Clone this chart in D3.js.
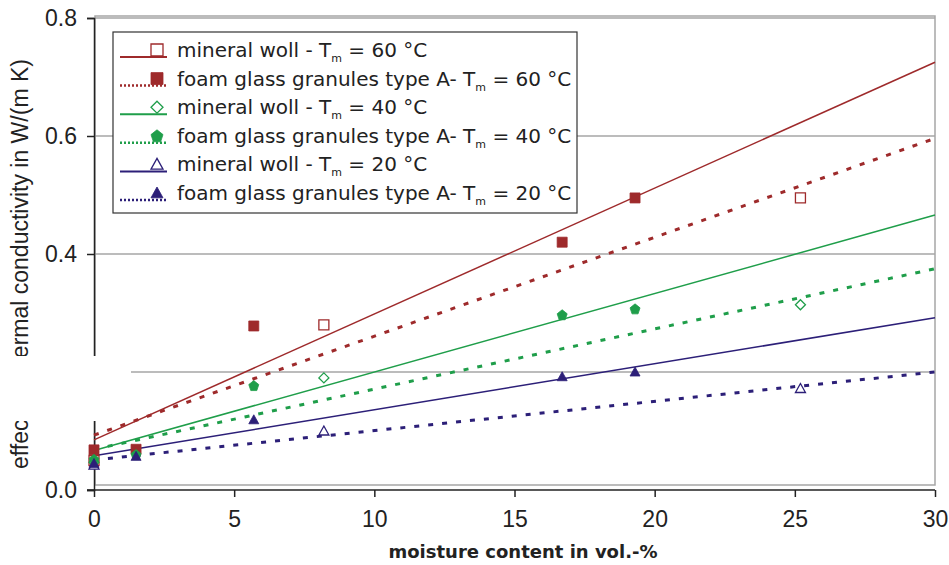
<!DOCTYPE html>
<html>
<head>
<meta charset="utf-8">
<script src="https://cdnjs.cloudflare.com/ajax/libs/d3/7.8.5/d3.min.js"></script>
<style>
  body { margin: 0; background: #fff; }
  svg { display: block; }
</style>
</head>
<body>
<svg id="viz"></svg>
<script>
var width = 949;
var height = 565;

// moisture content (vol.-%) of the measured samples
var foamX = [0, 1.5, 5.7, 16.7, 19.3];
var woolX = [0, 8.2, 25.2];

// effective thermal conductivity in W/(m K)
var foam60 = [0.068, 0.069, 0.278, 0.42, 0.495];
var foam40 = [0.052, 0.06, 0.177, 0.297, 0.307];
var foam20 = [0.045, 0.057, 0.119, 0.192, 0.2];
var wool60 = [0.05, 0.28, 0.495];
var wool40 = [0.047, 0.19, 0.314];
var wool20 = [0.042, 0.1, 0.172];

// trend lines, value at 0 and at 30 vol.-%
var trendX = [0, 30];
var woolTrend60 = [0.085, 0.725];
var foamTrend60 = [0.093, 0.596];
var woolTrend40 = [0.067, 0.466];
var foamTrend40 = [0.069, 0.375];
var woolTrend20 = [0.058, 0.292];
var foamTrend20 = [0.051, 0.2];

var xTicks = [0, 5, 10, 15, 20, 25, 30];
var yTicks = [0.0, 0.2, 0.4, 0.6, 0.8];

var brown = "#9e2a2b";
var green = "#1f9e4a";
var blue = "#2c1f78";

var series = [
    { name: "mineral woll - T", temp: "60 °C", xs: woolX, ys: wool60, trend: woolTrend60, color: brown, symbol: "square", filled: false, dashed: false },
    { name: "foam glass granules type A- T", temp: "60 °C", xs: foamX, ys: foam60, trend: foamTrend60, color: brown, symbol: "square", filled: true, dashed: true },
    { name: "mineral woll - T", temp: "40 °C", xs: woolX, ys: wool40, trend: woolTrend40, color: green, symbol: "diamond", filled: false, dashed: false },
    { name: "foam glass granules type A- T", temp: "40 °C", xs: foamX, ys: foam40, trend: foamTrend40, color: green, symbol: "pentagon", filled: true, dashed: true },
    { name: "mineral woll - T", temp: "20 °C", xs: woolX, ys: wool20, trend: woolTrend20, color: blue, symbol: "triangle", filled: false, dashed: false },
    { name: "foam glass granules type A- T", temp: "20 °C", xs: foamX, ys: foam20, trend: foamTrend20, color: blue, symbol: "triangle", filled: true, dashed: true }
];

var svg = d3.select("#viz")
    .attr("width", width)
    .attr("height", height);

var x = d3.scaleLinear().domain([0, 30]).range([94, 935]);
var y = d3.scaleLinear().domain([0, 0.8]).range([490, 18]);

// plot frame and grid
svg.append("rect")
    .attr("x", 95).attr("y", 16)
    .attr("width", 840).attr("height", 469)
    .attr("fill", "none")
    .attr("stroke", "#a6a6a6")
    .attr("stroke-width", 1.5);

svg.append("g")
    .selectAll("line")
    .data(yTicks.filter(function (d) { return d > 0; }))
    .enter()
    .append("line")
    .attr("x1", function (d) { return d == 0.2 ? 131 : 95; })
    .attr("x2", 935)
    .attr("y1", function (d) { return y(d); })
    .attr("y2", function (d) { return y(d); })
    .attr("stroke", "#a6a6a6")
    .attr("stroke-width", 1.5);

// axes
var xAxis = svg.append("g")
    .attr("transform", "translate(0," + y(0) + ")")
    .call(d3.axisBottom(x).tickValues(xTicks).tickSize(7).tickPadding(14).tickFormat(d3.format("d")));

var yAxis = svg.append("g")
    .attr("transform", "translate(" + x(0) + ",0)")
    .call(d3.axisLeft(y).tickValues(yTicks).tickSize(7).tickPadding(10).tickFormat(d3.format(".1f")));

[xAxis, yAxis].forEach(function (a) {
    a.select(".domain").attr("stroke", "#222").attr("stroke-width", 1.5);
    a.selectAll(".tick line").attr("stroke", "#222").attr("stroke-width", 1.5);
    a.selectAll(".tick text")
        .attr("fill", "#222")
        .style("font-family", "Liberation Sans, Arial, sans-serif")
        .style("font-size", "23px");
});
xAxis.select(".domain").attr("d", "M87,0H935");

// axis titles
svg.append("text")
    .attr("x", 523)
    .attr("y", 558)
    .attr("text-anchor", "middle")
    .style("font-family", "DejaVu Sans, sans-serif")
    .style("font-size", "18px")
    .style("font-weight", "bold")
    .attr("fill", "#222")
    .text("moisture content in vol.-%");

svg.append("text")
    .attr("transform", "translate(28,264) rotate(-90)")
    .attr("text-anchor", "middle")
    .style("font-family", "Liberation Sans, Arial, sans-serif")
    .style("font-size", "23px")
    .attr("fill", "#222")
    .text("effective thermal conductivity in W/(m K)");

// white patch that hides part of the y axis in the original
svg.append("rect")
    .attr("x", 0).attr("y", 356)
    .attr("width", 131).attr("height", 65)
    .attr("fill", "#fff");

// trend lines
var plot = svg.append("g");

plot.selectAll("line.trend")
    .data(series)
    .enter()
    .append("line")
    .attr("class", "trend")
    .attr("x1", x(trendX[0]))
    .attr("x2", function (d) { return x(trendX[1]); })
    .attr("y1", function (d) { return y(d.trend[0]); })
    .attr("y2", function (d) { return y(d.trend[1]); })
    .attr("stroke", function (d) { return d.color; })
    .attr("stroke-width", function (d) { return d.dashed ? 3 : 1.5; })
    .attr("stroke-dasharray", function (d) { return d.dashed ? "5,9" : null; });

// marker shapes
function markerPath(symbol, s) {
    if (symbol == "square") return "M" + (-s) + "," + (-s) + "H" + s + "V" + s + "H" + (-s) + "Z";
    if (symbol == "diamond") return "M0," + (-s) + "L" + s + ",0L0," + s + "L" + (-s) + ",0Z";
    if (symbol == "triangle") return "M0," + (-s) + "L" + s + "," + (s * 0.8) + "L" + (-s) + "," + (s * 0.8) + "Z";
    return "M0," + (-s) + "L" + s + "," + (-s * 0.2) + "L" + (s * 0.6) + "," + s + "L" + (-s * 0.6) + "," + s + "L" + (-s) + "," + (-s * 0.2) + "Z";
}

function drawMarker(sel, d, s) {
    sel.append("path")
        .attr("d", markerPath(d.symbol, s))
        .attr("fill", d.filled ? d.color : "#fff")
        .attr("stroke", d.color)
        .attr("stroke-width", d.filled ? 0.8 : 1.3);
}

series.forEach(function (d) {
    d.xs.forEach(function (v, i) {
        var g = plot.append("g")
            .attr("transform", "translate(" + x(v) + "," + y(d.ys[i]) + ")");
        drawMarker(g, d, 5);
    });
});

// legend
var legend = svg.append("g").attr("transform", "translate(113,32)");

legend.append("rect")
    .attr("width", 464)
    .attr("height", 181)
    .attr("fill", "#fff")
    .attr("stroke", "#333")
    .attr("stroke-width", 1.2);

var rows = legend.selectAll("g.row")
    .data(series)
    .enter()
    .append("g")
    .attr("class", "row")
    .attr("transform", function (d, i) { return "translate(0," + (18 + i * 28.6) + ")"; });

rows.append("line")
    .attr("x1", 7).attr("x2", 54)
    .attr("y1", 7).attr("y2", 7)
    .attr("stroke", function (d) { return d.color; })
    .attr("stroke-width", function (d) { return d.dashed ? 2.5 : 2; })
    .attr("stroke-dasharray", function (d) { return d.dashed ? "2,2" : null; });

rows.each(function (d) {
    var g = d3.select(this).append("g").attr("transform", "translate(44,0)");
    drawMarker(g, d, 6);
});

var label = rows.append("text")
    .attr("x", 64)
    .attr("y", 7)
    .style("font-family", "DejaVu Sans, sans-serif")
    .style("font-size", "20px")
    .attr("fill", "#222");

label.append("tspan").text(function (d) { return d.name; });
label.append("tspan")
    .attr("dy", 5)
    .style("font-size", "11px")
    .text("m");
label.append("tspan")
    .attr("dy", -5)
    .text(function (d) { return " = " + d.temp; });
</script>
</body>
</html>
